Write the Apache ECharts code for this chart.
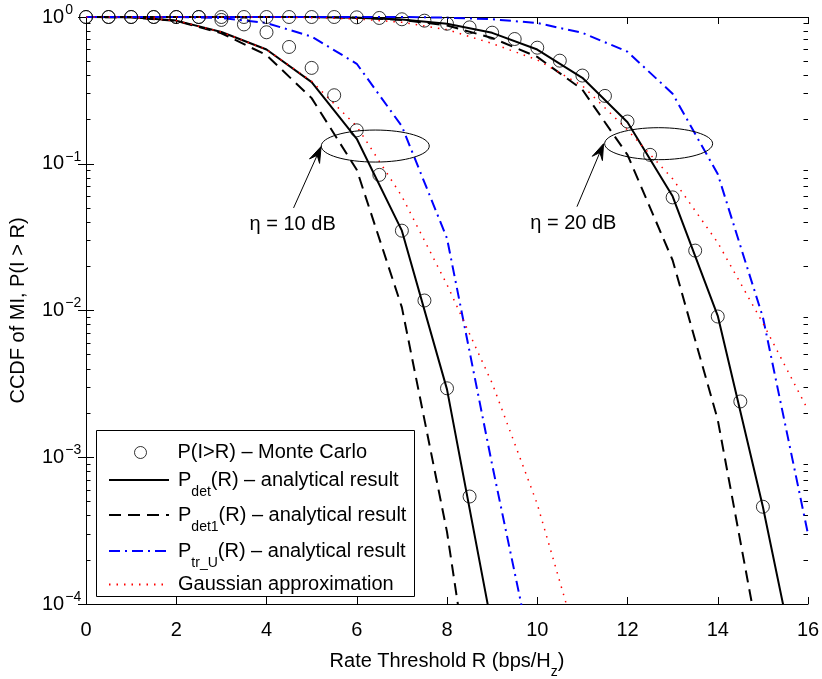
<!DOCTYPE html>
<html>
<head>
<meta charset="utf-8">
<script src="https://cdn.jsdelivr.net/npm/echarts@6/dist/echarts.min.js"></script>
<style>
  html, body { margin: 0; padding: 0; background: #fff; }
  #chart { width: 822px; height: 679px; }
</style>
</head>
<body>
<div id="chart"></div>
<script>
// rate thresholds R (bps/Hz)
const rateGrid = [0, 1, 2, 3, 4, 5, 6, 7, 8, 9, 10, 11, 12, 13, 14, 15, 16];
const rateMC10 = [0, 0.5, 1, 1.5, 2, 2.5, 3, 3.5, 4, 4.5, 5, 5.5, 6, 6.5, 7, 7.5, 8, 8.5];
const rateMC20 = [0, 0.5, 1, 1.5, 2, 2.5, 3, 3.5, 4, 4.5, 5, 5.5, 6, 6.5, 7, 7.5, 8, 8.5, 9, 9.5,
                  10, 10.5, 11, 11.5, 12, 12.5, 13, 13.5, 14, 14.5, 15];

// eta = 10 dB
const mc10    = [1, 1, 1, 1, 1, 1, 0.955, 0.89, 0.787, 0.625, 0.45, 0.293, 0.169, 0.084, 0.035, 0.0117, 0.00295, 5.4e-4];
const det10   = [1, 0.995, 0.945, 0.79, 0.6, 0.36, 0.148, 0.035, 0.0029, 6.9e-5];
const det1_10 = [1, 0.995, 0.94, 0.775, 0.55, 0.28, 0.091, 0.0105, 3.1e-4, 2.8e-6];
const trU10   = [1, 1, 1, 0.985, 0.91, 0.735, 0.48, 0.18, 0.031, 8.9e-4, 3e-5];
const gauss10 = [1, 0.995, 0.945, 0.79, 0.6, 0.365, 0.18, 0.06, 0.015, 0.0032, 4.8e-4, 4.2e-5];

// eta = 20 dB
const mc20    = [1, 1, 1, 1, 1, 1, 1, 1, 1, 1, 1, 1, 0.995, 0.985, 0.965, 0.944, 0.9, 0.85, 0.782, 0.708,
                 0.618, 0.504, 0.399, 0.29, 0.194, 0.115, 0.059, 0.0256, 0.0091, 0.0024, 4.6e-4];
const det20   = [1, 1, 1, 1, 1, 1, 0.99, 0.96, 0.9, 0.78, 0.6, 0.385, 0.192, 0.06, 0.0092, 4.6e-4, 1.5e-5];
const det1_20 = [1, 1, 1, 1, 1, 1, 0.99, 0.955, 0.875, 0.72, 0.535, 0.32, 0.115, 0.022, 0.0018, 4e-5];
const trU20   = [1, 1, 1, 1, 1, 1, 1, 1, 0.99, 0.965, 0.91, 0.78, 0.58, 0.3, 0.085, 0.009, 3e-4];
const gauss20 = [1, 1, 1, 1, 1, 0.99, 0.97, 0.92, 0.82, 0.66, 0.51, 0.34, 0.17, 0.079, 0.029, 0.0082, 0.0021];

// ticks
const xTicks = [0, 2, 4, 6, 8, 10, 12, 14, 16];
const yTicks = [1e-4, 1e-3, 1e-2, 1e-1, 1];
const yMinorTicks = [];
for (let e = -4; e < 0; e++) {
  for (let m = 2; m <= 9; m++) yMinorTicks.push(+(m * Math.pow(10, e)).toPrecision(3));
}

// annotations (data coordinates)
const ellipseCentres = [[6.41, 0.132], [12.69, 0.137]];
const arrowTails = [[4.6, 0.05], [10.88, 0.051]];
const arrowTips = [[5.21, 0.131], [11.47, 0.137]];
const etaLabels = ['η = 10 dB', 'η = 20 dB'];
const etaLabelPos = [[4.58, 0.0388], [10.8, 0.039]];

const FONT = '"Liberation Sans", Arial, Helvetica, sans-serif';
const FS = 20;

function pairs(xs, ys) {
  return ys.map(function (y, i) { return [xs[i], y]; });
}

const mainTok = { fontSize: FS, lineHeight: 22, fontFamily: FONT, color: '#000' };
const firstTok = Object.assign({}, mainTok, { padding: [0, 0, 0, 4] });
const mcTok = Object.assign({}, mainTok, { padding: [0, 0, 0, 26] });
const subTok = { fontSize: 14, lineHeight: 22, fontFamily: FONT, color: '#000', padding: [24, 0, 0, 0] };
const axisSubTok = Object.assign({}, subTok, { padding: [20, 0, 0, 0] });
const supTok = { fontSize: 14, lineHeight: 22, fontFamily: FONT, color: '#000', padding: [0, 0, 14, 1] };
const richText = { m: mainTok, f: firstTok, c: mcTok, s: subTok };

const legendText = {
  mc: '{c|P(I>R) – Monte Carlo}',
  det: '{f|P}{s|det}{m|(R) – analytical result}',
  det1: '{f|P}{s|det1}{m|(R) – analytical result}',
  trU: '{f|P}{s|tr_U}{m|(R) – analytical result}',
  gauss: '{f|Gaussian approximation}'
};
// [series, row centre, top offset]
const legendRows = [['mc', 449, 6.5], ['det', 480, 19], ['det1', 515, 19], ['trU', 551, 19], ['gauss', 583, 8.5]];

const styles = {
  mc: { color: '#000' },
  det: { color: '#000', width: 2, type: 'solid' },
  det1: { color: '#000', width: 2, type: [12, 7] },
  trU: { color: '#0000ff', width: 2, type: [11, 5, 2, 5] },
  gauss: { color: '#ff0000', width: 1.5, type: [1.5, 6] }
};

function lineSeries(name, ys) {
  return {
    name: name,
    type: 'line',
    data: pairs(rateGrid, ys),
    symbol: 'none',
    showSymbol: false,
    lineStyle: styles[name],
    itemStyle: { color: styles[name].color },
    clip: true,
    z: 2
  };
}
function mcSeries(xs, ys) {
  return {
    name: 'mc',
    type: 'scatter',
    data: pairs(xs, ys),
    symbol: 'circle',
    symbolSize: 13,
    itemStyle: { color: 'rgba(0,0,0,0)', borderColor: '#000', borderWidth: 1 },
    z: 3
  };
}

const tickLine = { color: '#000', width: 1 };

const option = {
  animation: false,
  backgroundColor: '#fff',
  textStyle: { fontFamily: FONT, color: '#000' },
  grid: { left: 86, right: 14, top: 17, bottom: 75, containLabel: false, outerBoundsMode: 'none' },
  xAxis: [
    {
      type: 'value', min: 0, max: 16, interval: 2, position: 'bottom',
      axisLine: { show: true, lineStyle: { color: '#000', width: 1 } },
      axisTick: { show: true, inside: true, length: 7, customValues: xTicks, lineStyle: tickLine },
      axisLabel: { show: true, customValues: xTicks, margin: 16, fontSize: FS, fontFamily: FONT, color: '#000' },
      splitLine: { show: false },
      name: '{m|Rate Threshold R (bps/H}{z|z}{m|)}',
      nameLocation: 'middle', nameGap: 39,
      nameTextStyle: { rich: { m: mainTok, z: axisSubTok } }
    },
    {
      type: 'value', min: 0, max: 16, interval: 2, position: 'top',
      axisLine: { show: true, lineStyle: { color: '#000', width: 1 } },
      axisTick: { show: true, inside: true, length: 7, customValues: xTicks, lineStyle: tickLine },
      axisLabel: { show: false },
      splitLine: { show: false }
    }
  ],
  yAxis: [
    {
      type: 'log', logBase: 10, min: 1e-4, max: 1, position: 'left',
      axisLine: { show: true, lineStyle: { color: '#000', width: 1 } },
      axisTick: { show: true, inside: true, length: 8, customValues: yTicks, lineStyle: tickLine },
      axisLabel: {
        show: true, customValues: yTicks, align: 'left', margin: 44,
        formatter: function (v) {
          const e = Math.round(Math.log10(v));
          return '{b|10}{e|' + (e === 0 ? '0' : '\u2212' + (-e)) + '}';
        },
        rich: { b: mainTok, e: supTok }
      },
      splitLine: { show: false },
      name: 'CCDF of MI, P(I > R)',
      nameLocation: 'middle', nameGap: 58,
      nameTextStyle: { fontSize: FS, fontFamily: FONT, color: '#000' }
    },
    {
      type: 'log', logBase: 10, min: 1e-4, max: 1, position: 'right',
      axisLine: { show: true, lineStyle: { color: '#000', width: 1 } },
      axisTick: { show: true, inside: true, length: 8, customValues: yTicks, lineStyle: tickLine },
      axisLabel: { show: false },
      splitLine: { show: false }
    },
    {
      type: 'log', logBase: 10, min: 1e-4, max: 1, position: 'left',
      axisLine: { show: false },
      axisTick: { show: true, inside: true, length: 4.5, customValues: yMinorTicks, lineStyle: tickLine },
      axisLabel: { show: false },
      splitLine: { show: false }
    },
    {
      type: 'log', logBase: 10, min: 1e-4, max: 1, position: 'right',
      axisLine: { show: false },
      axisTick: { show: true, inside: true, length: 4.5, customValues: yMinorTicks, lineStyle: tickLine },
      axisLabel: { show: false },
      splitLine: { show: false }
    }
  ],
  legend: legendRows.map(function (r) {
    const isMc = r[0] === 'mc';
    return {
      data: [r[0]],
      left: isMc ? 134 : 108,
      top: r[1] - r[2],
      padding: 0,
      itemWidth: isMc ? 12 : 60,
      itemHeight: isMc ? 12 : 14,
      selectedMode: false,
      formatter: function (n) { return legendText[n]; },
      textStyle: { fontSize: FS, fontFamily: FONT, color: '#000', rich: richText },
      itemStyle: isMc
        ? { color: 'rgba(0,0,0,0)', borderColor: '#000', borderWidth: 1 }
        : { color: 'rgba(0,0,0,0)', borderColor: 'rgba(0,0,0,0)', borderWidth: 0 },
      z: 6
    };
  }),
  series: [
    mcSeries(rateMC10, mc10),
    lineSeries('det', det10),
    lineSeries('det1', det1_10),
    lineSeries('trU', trU10),
    lineSeries('gauss', gauss10),
    mcSeries(rateMC20, mc20),
    lineSeries('det', det20),
    lineSeries('det1', det1_20),
    lineSeries('trU', trU20),
    lineSeries('gauss', gauss20)
  ]
};

const chart = echarts.init(document.getElementById('chart'));
chart.setOption(option);

function px(p) { return chart.convertToPixel({ seriesIndex: 1 }, p); }

const graphics = [{
  type: 'rect', z: 5,
  shape: { x: 96.5, y: 430.5, width: 318, height: 166 },
  style: { fill: '#fff', stroke: '#000', lineWidth: 1 }
}];
ellipseCentres.forEach(function (c) {
  const p = px(c);
  graphics.push({
    type: 'ellipse', z: 4,
    shape: { cx: p[0], cy: p[1], rx: 54, ry: 16 },
    style: { fill: 'none', stroke: '#000', lineWidth: 1 }
  });
});
arrowTips.forEach(function (tip, i) {
  const a = px(arrowTails[i]);
  const b = px(tip);
  const dx = b[0] - a[0], dy = b[1] - a[1];
  const len = Math.sqrt(dx * dx + dy * dy);
  const ux = dx / len, uy = dy / len;
  const nx = -uy, ny = ux;
  const L = 16, W = 5.5;
  graphics.push({
    type: 'line', z: 4,
    shape: { x1: a[0], y1: a[1], x2: b[0] - ux * 8, y2: b[1] - uy * 8 },
    style: { stroke: '#000', lineWidth: 1 }
  });
  graphics.push({
    type: 'polygon', z: 4,
    shape: { points: [
      [b[0], b[1]],
      [b[0] - ux * L + nx * W, b[1] - uy * L + ny * W],
      [b[0] - ux * L * 0.6, b[1] - uy * L * 0.6],
      [b[0] - ux * L - nx * W, b[1] - uy * L - ny * W]
    ] },
    style: { fill: '#000', stroke: '#000', lineWidth: 1 }
  });
});
etaLabelPos.forEach(function (pos, i) {
  const p = px(pos);
  graphics.push({
    type: 'text', z: 4,
    x: p[0], y: p[1],
    style: { text: etaLabels[i], font: FS + 'px ' + FONT, fill: '#000', align: 'center', verticalAlign: 'middle' }
  });
});
chart.setOption({ graphic: graphics });
</script>
</body>
</html>
